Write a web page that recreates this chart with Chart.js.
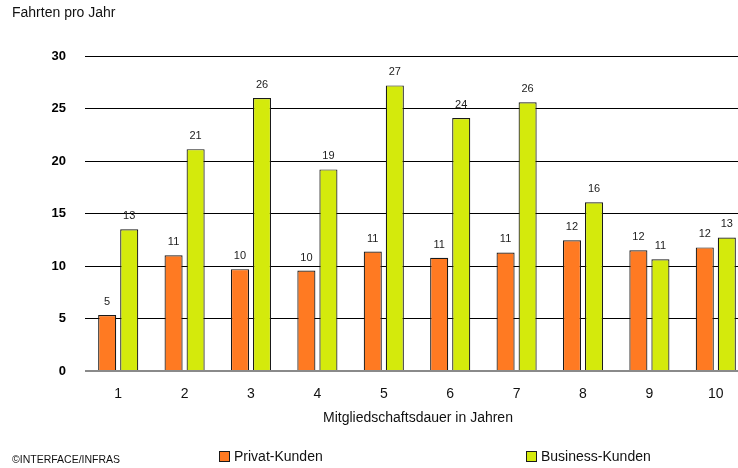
<!DOCTYPE html>
<html><head><meta charset="utf-8">
<script src="https://cdn.jsdelivr.net/npm/chart.js@4"></script>
<style>
html,body{margin:0;padding:0;background:#fff;overflow:hidden}
#wrap{width:738px;height:468px;overflow:hidden;position:relative}
canvas{display:block}
</style></head>
<body><div id="wrap"><canvas id="c" width="749" height="468" style="width:749px;height:468px"></canvas></div>
<script>
const categories = ['1','2','3','4','5','6','7','8','9','10'];
const privatValues = [5.33, 11.03, 9.7, 9.57, 11.38, 10.78, 11.29, 12.45, 11.5, 11.77];
const businessValues = [13.49, 21.13, 26.0, 19.2, 27.2, 24.09, 25.6, 16.06, 10.65, 12.72];
const privatLabels = [5, 11, 10, 10, 11, 11, 11, 12, 12, 12];
const businessLabels = [13, 21, 26, 19, 27, 24, 26, 16, 11, 13];
const seriesNames = ['Privat-Kunden', 'Business-Kunden'];
const yTitle = 'Fahrten pro Jahr';
const xTitle = 'Mitgliedschaftsdauer in Jahren';
const credit = '\u00A9INTERFACE/INFRAS';

const FONT = '"Liberation Sans", Arial, sans-serif';
const ORANGE = '#FF7A22';
const GREEN = '#D4EA0C';
const EDGE = '#1a1a1a';

const overlay = {
  id: 'overlay',
  afterDatasetsDraw(chart) {
    const ctx = chart.ctx;
    ctx.save();
    ctx.font = '11px ' + FONT;
    ctx.fillStyle = '#222';
    ctx.textAlign = 'center';
    ctx.textBaseline = 'middle';
    [privatLabels, businessLabels].forEach((labels, di) => {
      chart.getDatasetMeta(di).data.forEach((bar, i) => {
        ctx.fillText(String(labels[i]), bar.x, bar.y - 13);
      });
    });
    ctx.restore();
  },
  afterDraw(chart) {
    const ctx = chart.ctx;
    const ca = chart.chartArea;
    ctx.save();
    ctx.fillStyle = '#111';
    ctx.textBaseline = 'middle';
    ctx.textAlign = 'left';
    ctx.font = '14px ' + FONT;
    ctx.fillText(yTitle, 12, 13);
    ctx.textAlign = 'center';
    ctx.font = '14px ' + FONT;
    ctx.fillText(xTitle, (ca.left + ca.right) / 2 + 1, 418);
    ctx.textAlign = 'left';
    ctx.font = '10.5px ' + FONT;
    ctx.fillText(credit, 12, 460);
    const items = [[219, ORANGE, seriesNames[0]], [526, GREEN, seriesNames[1]]];
    ctx.font = '14px ' + FONT;
    items.forEach(([x, col, name]) => {
      ctx.fillStyle = col;
      ctx.fillRect(x, 451, 11, 11);
      ctx.strokeStyle = EDGE;
      ctx.lineWidth = 1;
      ctx.strokeRect(x + 0.5, 451.5, 10, 10);
      ctx.fillStyle = '#111';
      ctx.fillText(name, x + 15, 457);
    });
    ctx.restore();
  }
};

new Chart(document.getElementById('c'), {
  type: 'bar',
  data: {
    labels: categories,
    datasets: [
      { label: seriesNames[0], data: privatValues, backgroundColor: ORANGE, borderColor: EDGE, borderWidth: 1.2 },
      { label: seriesNames[1], data: businessValues, backgroundColor: GREEN, borderColor: EDGE, borderWidth: 1.2 }
    ]
  },
  options: {
    responsive: false,
    devicePixelRatio: 1,
    animation: false,
    layout: { padding: { top: 56, right: 0, bottom: 0, left: 0 } },
    datasets: { bar: { categoryPercentage: 0.664, barPercentage: 0.82 } },
    plugins: { legend: { display: false }, tooltip: { enabled: false } },
    scales: {
      x: {
        grid: { display: false },
        border: { display: false },
        ticks: { color: '#111', font: { family: FONT, size: 14 }, padding: 7 },
        afterFit(s) { s.height = 97; }
      },
      y: {
        min: 0, max: 30,
        border: { display: false },
        grid: {
          drawTicks: false,
          color: c => c.tick && c.tick.value === 0 ? '#8a8a8a' : '#000',
          lineWidth: c => c.tick && c.tick.value === 0 ? 2 : 1
        },
        ticks: { stepSize: 5, color: '#000', font: { family: FONT, size: 13, weight: 'bold' }, padding: 19 },
        afterFit(s) { s.width = 85; }
      }
    }
  },
  plugins: [overlay]
});
</script>
</body></html>
